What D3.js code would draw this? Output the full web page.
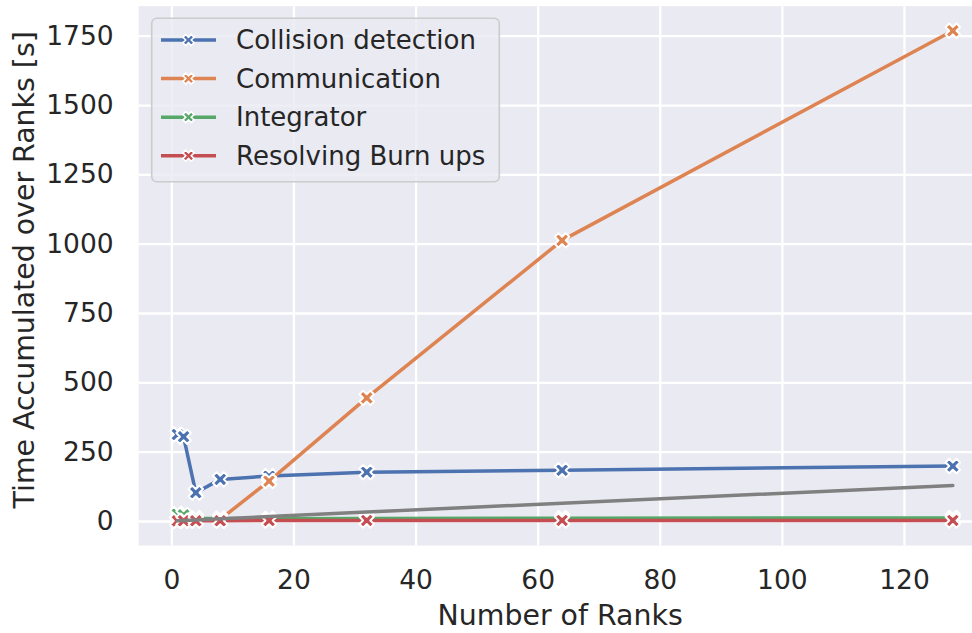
<!DOCTYPE html>
<html>
<head>
<meta charset="utf-8">
<script src="https://cdn.jsdelivr.net/npm/d3@7"></script>
<style>
  html, body { margin: 0; padding: 0; background: #ffffff; }
  svg { display: block; font-family: "DejaVu Sans", sans-serif; }
</style>
</head>
<body>
<svg id="chart" width="972" height="633"></svg>
<script>
// Number of ranks used in each run
const ranks = [1, 2, 4, 8, 16, 32, 64, 128];

// Accumulated time (s) per phase, summed over all ranks
const collisionDetection = [312, 304, 102, 150, 162, 176, 183, 198];
const communication     = [0, 1, 3, 6, 144, 444, 1012, 1768];
const integrator        = [25, 22, 10, 9, 8, 9, 10, 11];
const resolvingBurnUps  = [0.5, 0.8, 1, 1, 1.5, 2, 2, 2];

// Reference line: time equal to number of ranks
const referenceLine = ranks.map(r => r);

const seriesNames  = ["Collision detection", "Communication", "Integrator", "Resolving Burn ups"];
const seriesValues = [collisionDetection, communication, integrator, resolvingBurnUps];
const seriesColors = ["#4C72B0", "#DD8452", "#55A868", "#C44E52"];

const xTicks = [0, 20, 40, 60, 80, 100, 120];
const yTicks = [0, 250, 500, 750, 1000, 1250, 1500, 1750];

const svg = d3.select("#chart");

// Axes limits include matplotlib-style 5% margins
const xMin = 1, xMax = 128;
const xPad = (xMax - xMin) * 0.05;
const yTop = d3.max(communication);
const yPad = yTop * 0.05;

const plot = { left: 138.7, right: 991.6, top: 6.2, bottom: 545.5 };

const x = d3.scaleLinear()
  .domain([xMin - xPad, xMax + xPad])
  .range([plot.left, plot.right]);
const y = d3.scaleLinear()
  .domain([-yPad, yTop + yPad])
  .range([plot.bottom, plot.top]);

// Plot background
svg.append("rect")
  .attr("x", plot.left).attr("y", plot.top)
  .attr("width", plot.right - plot.left)
  .attr("height", plot.bottom - plot.top)
  .attr("fill", "#EAEAF2");

// Grid lines via axes with full-length ticks
const gridX = svg.append("g")
  .attr("transform", `translate(0,${plot.bottom})`)
  .call(d3.axisBottom(x).tickValues(xTicks).tickSize(-(plot.bottom - plot.top)).tickFormat(""));
const gridY = svg.append("g")
  .attr("transform", `translate(${plot.left},0)`)
  .call(d3.axisLeft(y).tickValues(yTicks).tickSize(-(plot.right - plot.left)).tickFormat(""));
[gridX, gridY].forEach(g => {
  g.select(".domain").remove();
  g.selectAll(".tick line").attr("stroke", "#ffffff").attr("stroke-width", 2.3);
});

// Tick labels
const xAxis = svg.append("g")
  .attr("transform", `translate(0,${plot.bottom})`)
  .call(d3.axisBottom(x).tickValues(xTicks).tickFormat(d3.format("d")).tickSize(0).tickPadding(25));
const yAxis = svg.append("g")
  .attr("transform", `translate(${plot.left},0)`)
  .call(d3.axisLeft(y).tickValues(yTicks).tickFormat(d3.format("d")).tickSize(0).tickPadding(25));
[xAxis, yAxis].forEach(g => {
  g.select(".domain").remove();
  g.selectAll("text")
    .attr("fill", "#262626")
    .style("font-size", "26.5px")
    .style("font-family", "'DejaVu Sans', sans-serif");
});

// Axis titles
svg.append("text")
  .attr("x", (plot.left + plot.right) / 2 - 5)
  .attr("y", 625)
  .attr("text-anchor", "middle")
  .attr("fill", "#262626")
  .style("font-size", "28.4px")
  .text("Number of Ranks");

svg.append("text")
  .attr("transform", `translate(34,${(plot.top + plot.bottom) / 2 - 6}) rotate(-90)`)
  .attr("text-anchor", "middle")
  .attr("fill", "#262626")
  .style("font-size", "28.4px")
  .text("Time Accumulated over Ranks [s]");

// Filled "X" marker outline, unit size
const xMarkerPts = [[-1,-2],[0,-1],[1,-2],[2,-1],[1,0],[2,1],[1,2],[0,1],[-1,2],[-2,1],[-1,0],[-2,-1]]
  .map(([a, b]) => [a / 4, b / 4]);
function xMarkerPath(size) {
  return "M" + xMarkerPts.map(([a, b]) => `${a * size},${b * size}`).join("L") + "Z";
}

svg.append("clipPath").attr("id", "plotClip")
  .append("rect")
  .attr("x", plot.left).attr("y", plot.top)
  .attr("width", plot.right - plot.left)
  .attr("height", plot.bottom - plot.top);

const marks = svg.append("g").attr("clip-path", "url(#plotClip)");

const line = d3.line()
  .x(d => x(d[0]))
  .y(d => y(d[1]));

seriesValues.forEach((vals, i) => {
  const pts = ranks.map((r, j) => [r, vals[j]]);
  const g = marks.append("g");
  g.append("path")
    .datum(pts)
    .attr("fill", "none")
    .attr("stroke", seriesColors[i])
    .attr("stroke-width", 3.5)
    .attr("stroke-linejoin", "round")
    .attr("stroke-linecap", "round")
    .attr("d", line);
  g.selectAll("path.marker")
    .data(pts)
    .join("path")
    .attr("class", "marker")
    .attr("transform", d => `translate(${x(d[0])},${y(d[1])})`)
    .attr("d", xMarkerPath(14.5))
    .attr("fill", seriesColors[i])
    .attr("stroke", "#ffffff")
    .attr("stroke-width", 2)
    .attr("stroke-linejoin", "round");
});

// Reference line drawn on top
marks.append("path")
  .datum(ranks.map((r, j) => [r, referenceLine[j]]))
  .attr("fill", "none")
  .attr("stroke", "#808080")
  .attr("stroke-width", 3.5)
  .attr("stroke-linecap", "round")
  .attr("d", line);

// Legend
const legend = svg.append("g");
legend.append("rect")
  .attr("x", 151.7).attr("y", 18.3)
  .attr("width", 347.6).attr("height", 163.4)
  .attr("rx", 5).attr("ry", 5)
  .attr("fill", "#EAEAF2").attr("fill-opacity", 0.8)
  .attr("stroke", "#cccccc").attr("stroke-width", 1.6);

const rowY = d3.scaleLinear().domain([0, 3]).range([40, 155.7]);
seriesNames.forEach((name, i) => {
  const cy = rowY(i);
  legend.append("line")
    .attr("x1", 161).attr("x2", 216)
    .attr("y1", cy).attr("y2", cy)
    .attr("stroke", seriesColors[i])
    .attr("stroke-width", 3.5);
  legend.append("path")
    .attr("transform", `translate(188.5,${cy})`)
    .attr("d", xMarkerPath(11))
    .attr("fill", seriesColors[i])
    .attr("stroke", "#ffffff")
    .attr("stroke-width", 1.6);
  legend.append("text")
    .attr("x", 236)
    .attr("y", cy)
    .attr("dy", "0.36em")
    .attr("fill", "#262626")
    .style("font-size", "26px")
    .text(name);
});
</script>
</body>
</html>
